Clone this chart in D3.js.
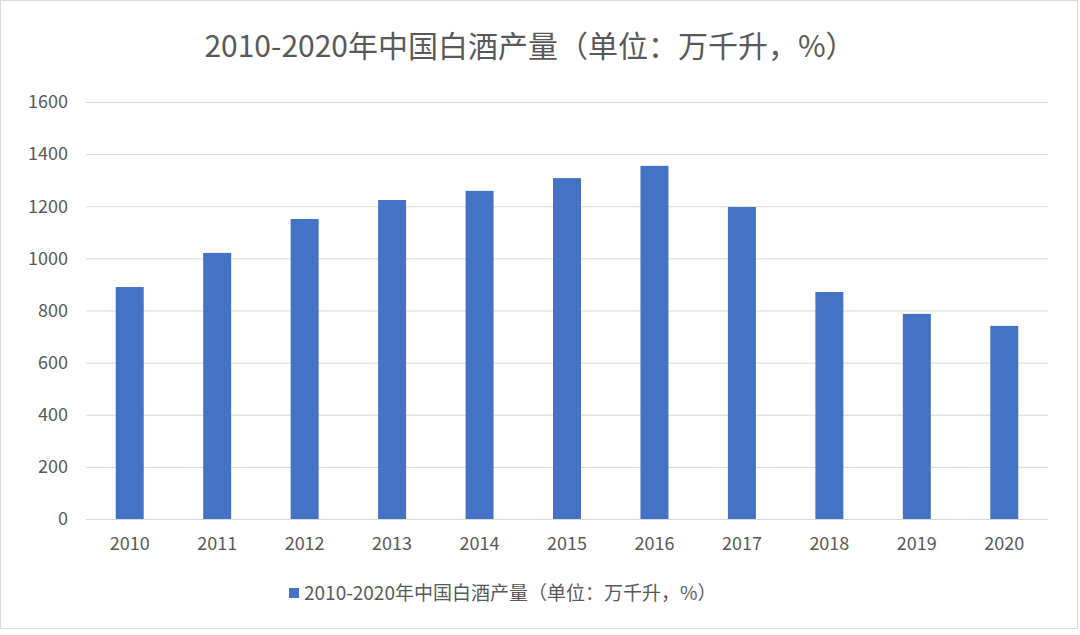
<!DOCTYPE html>
<html><head><meta charset="utf-8">
<script src="https://cdn.jsdelivr.net/npm/d3@7"></script>
<style>body{margin:0;background:#fff}</style>
</head><body>
<svg id="chart" width="1080" height="635"></svg>
<script>
const years = ["2010","2011","2012","2013","2014","2015","2016","2017","2018","2019","2020"];
const output = [890, 1021, 1151, 1224, 1259, 1308, 1355, 1197, 871, 787, 741];
const yTicks = [0, 200, 400, 600, 800, 1000, 1200, 1400, 1600];
const title = "2010-2020年中国白酒产量（单位：万千升，%）";

const font = "'Noto Sans CJK SC', 'Liberation Sans', sans-serif";
const svg = d3.select("#chart");
svg.append("rect").attr("x", 0.5).attr("y", 0.5).attr("width", 1077).attr("height", 628)
  .attr("fill", "#fff").attr("stroke", "#d9d9d9");

const x = d3.scaleBand().domain(years).range([86, 1048]).paddingInner(0.68).paddingOuter(0.34);
const y = d3.scaleLinear().domain([0, 1600]).range([519, 102]);

svg.append("g").selectAll("line").data(yTicks).join("line")
  .attr("x1", 86).attr("x2", 1048)
  .attr("y1", d => y(d) + 0.5).attr("y2", d => y(d) + 0.5)
  .attr("stroke", "#d9d9d9");

svg.append("g").selectAll("text").data(yTicks).join("text")
  .attr("x", 68).attr("y", d => y(d)).attr("dy", "0.35em")
  .attr("text-anchor", "end").attr("fill", "#595959")
  .style("font", `18px ${font}`).text(d => d);

svg.append("g").selectAll("rect").data(years).join("rect")
  .attr("x", d => x(d)).attr("width", x.bandwidth())
  .attr("y", (d, i) => y(output[i])).attr("height", (d, i) => y(0) - y(output[i]))
  .attr("fill", "#4472c4");

svg.append("g").selectAll("text").data(years).join("text")
  .attr("x", d => x(d) + x.bandwidth() / 2).attr("y", 544).attr("dy", "0.35em")
  .attr("text-anchor", "middle").attr("fill", "#595959")
  .style("font", `18px ${font}`).text(d => d);

svg.append("text").attr("x", 530).attr("y", 46).attr("dy", "0.35em")
  .attr("text-anchor", "middle").attr("fill", "#595959")
  .style("font", `30px ${font}`).text(title);

svg.append("rect").attr("x", 289).attr("y", 588).attr("width", 10).attr("height", 10).attr("fill", "#4472c4");
svg.append("text").attr("x", 304).attr("y", 593).attr("dy", "0.35em")
  .attr("fill", "#595959").style("font", `19px ${font}`).text(title);
</script>
</body></html>
